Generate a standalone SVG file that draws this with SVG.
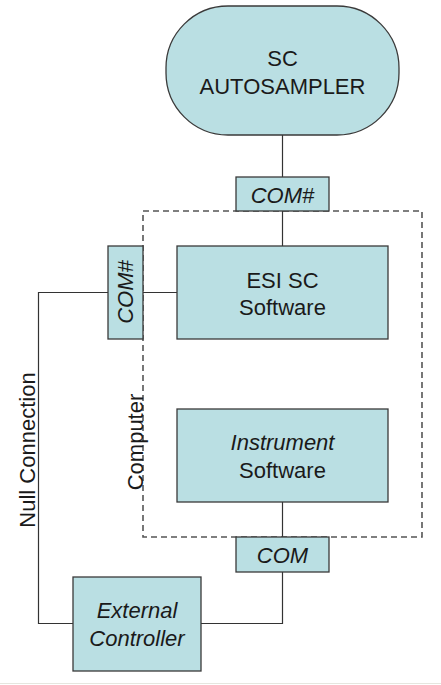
<svg xmlns="http://www.w3.org/2000/svg" width="441" height="685" viewBox="0 0 441 685">
<style>
.box{fill:#BADFE3;stroke:#3a3a3a;stroke-width:1.3}
.ln{fill:none;stroke:#333;stroke-width:1.2}
.dash{fill:none;stroke:#555;stroke-width:1.6;stroke-dasharray:6 4}
text{font-family:"Liberation Sans",Arial,sans-serif;font-size:22px;fill:#1a1a1a;text-anchor:middle}
.it{font-style:italic}
</style>
<rect x="0" y="0" width="441" height="685" fill="#fff"/>
<line x1="0" y1="683.5" x2="441" y2="683.5" stroke="#e6e6df" stroke-width="1"/>
<g id="computer">
<rect class="dash" x="143" y="211" width="279" height="326"/>
<text transform="translate(143,442) rotate(-90)">Computer</text>
</g>
<g id="connectors">
<line class="ln" x1="282.5" y1="135" x2="282.5" y2="177"/>
<line class="ln" x1="282.5" y1="211" x2="282.5" y2="246"/>
<line class="ln" x1="143" y1="292.5" x2="177" y2="292.5"/>
<polyline class="ln" points="108,292.5 38.5,292.5 38.5,623.5 73,623.5"/>
<line class="ln" x1="282.5" y1="502" x2="282.5" y2="537"/>
<polyline class="ln" points="282.5,572 282.5,623.5 201,623.5"/>
<text transform="translate(35,450) rotate(-90)">Null Connection</text>
</g>
<g id="autosampler">
<rect class="box" x="166" y="6" width="233" height="129" rx="62" ry="62"/>
<text x="282.5" y="66">SC</text>
<text x="282.5" y="94">AUTOSAMPLER</text>
</g>
<g id="com-top">
<rect class="box" x="236" y="177" width="93" height="34"/>
<text class="it" x="282.5" y="202.5">COM#</text>
</g>
<g id="com-left">
<rect class="box" x="108" y="246" width="35" height="93"/>
<text class="it" transform="translate(133,292) rotate(-90)">COM#</text>
</g>
<g id="esi-sc-software">
<rect class="box" x="177" y="246" width="211" height="93"/>
<text x="282.5" y="287.5">ESI SC</text>
<text x="282.5" y="315">Software</text>
</g>
<g id="instrument-software">
<rect class="box" x="177" y="409" width="211" height="93"/>
<text class="it" x="282.5" y="450">Instrument</text>
<text x="282.5" y="477.5">Software</text>
</g>
<g id="com-bottom">
<rect class="box" x="236" y="537" width="93" height="35"/>
<text class="it" x="282.5" y="563">COM</text>
</g>
<g id="external-controller">
<rect class="box" x="73" y="577" width="128" height="94"/>
<text class="it" x="137" y="618">External</text>
<text class="it" x="137" y="645.5">Controller</text>
</g>
</svg>
